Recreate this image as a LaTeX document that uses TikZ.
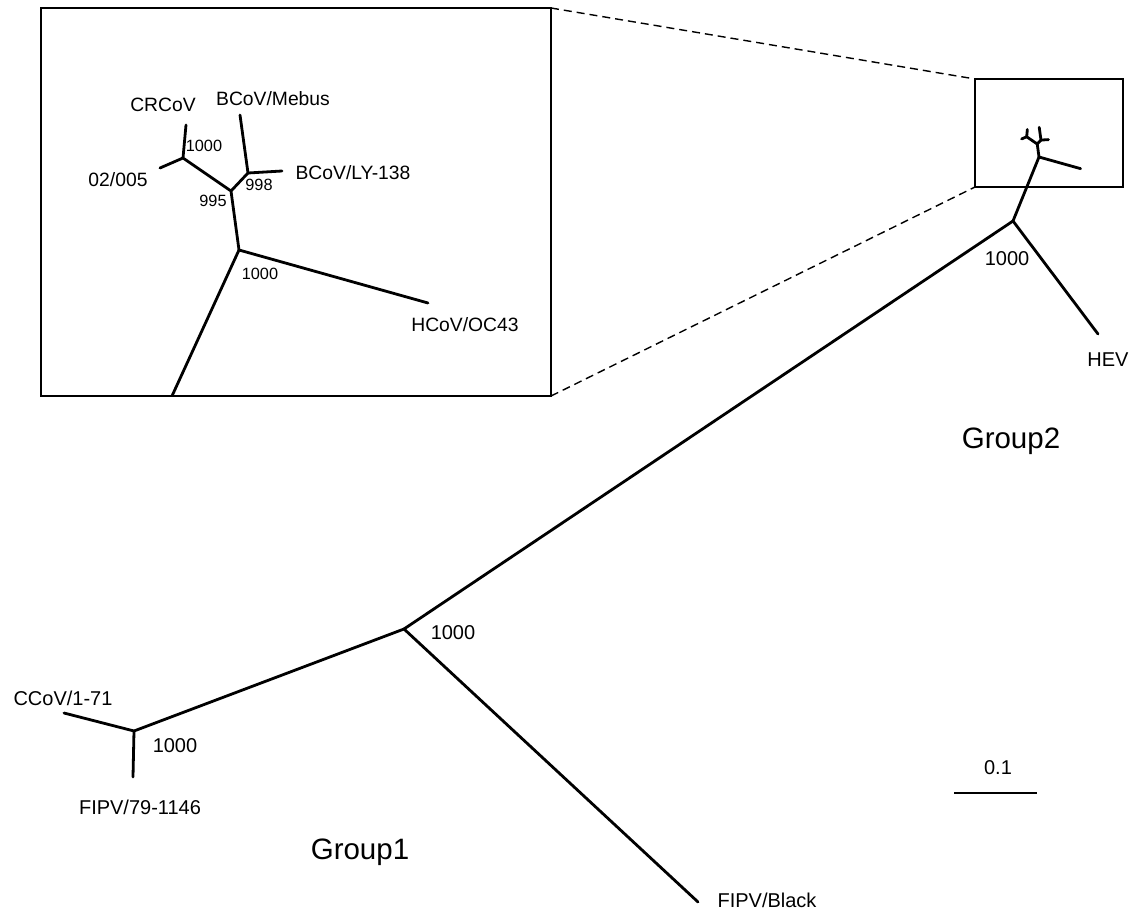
\documentclass[tikz,border=0pt]{standalone}
\usepackage{fontspec}
\setmainfont{Liberation Sans}
\tikzset{
  br/.style={line width=2.8pt, line cap=round, line join=round},
  boxframe/.style={draw, line width=2.8pt, inner sep=0pt, outer sep=0pt},
  lab/.style={inner sep=0pt, font=\fontsize{20}{22}\selectfont},
  ilab/.style={inner sep=0pt, font=\fontsize{19.3}{21}\selectfont},
  inum/.style={inner sep=0pt, font=\fontsize{16.3}{18}\selectfont},
  grp/.style={inner sep=0pt, font=\fontsize{29.5}{32}\selectfont},
  zoomline/.style={line width=1.4pt, dash pattern=on 8pt off 5pt},
}
\newcommand\cvtree[1]{%
  \coordinate (#1D) at (0,0);
  \coordinate (#1A) at (-56,-92);
  \coordinate (#1CR) at (-53,-125);
  \coordinate (#1OO) at (-79,-82);
  \coordinate (#1B) at (-8,-59);
  \coordinate (#1C) at (9,-77);
  \coordinate (#1ME) at (1,-135);
  \coordinate (#1LY) at (43,-79);
  \coordinate (#1HC) at (189,53);
  \draw[br] (#1HC) -- (#1D) -- (#1B) -- (#1A) -- (#1CR);
  \draw[br] (#1A) -- (#1OO);
  \draw[br] (#1B) -- (#1C) -- (#1ME);
  \draw[br] (#1C) -- (#1LY);
}
\begin{document}
\begin{tikzpicture}[x=1pt,y=-1pt]
\useasboundingbox (0,0) rectangle (1136,912);
% boxes
\node[boxframe, minimum width=510pt, minimum height=388pt] (bigbox) at (296,202) {};
\node[boxframe, minimum width=148pt, minimum height=108pt] (smallbox) at (1049,133) {};
\draw[zoomline] (bigbox.north east) -- (smallbox.north west);
\draw[zoomline] (bigbox.south east) -- (smallbox.south west);
% inset tree
\begin{scope}[shift={(239,250)}]
  \cvtree{i}
\end{scope}
\coordinate (iR) at (172,396);
\draw[br, line cap=butt] (iD) -- (iR);
% small tree
\begin{scope}[shift={(1039,157)}, scale=0.22]
  \cvtree{s}
\end{scope}
% main tree
\coordinate (G2) at (1013,221);
\coordinate (HEV) at (1098,334);
\coordinate (M) at (404,629);
\coordinate (FB) at (698,902);
\coordinate (G1) at (134,731);
\coordinate (CC) at (64,713);
\coordinate (FI) at (133,777);
\draw[br] (sD) -- (G2) -- (HEV);
\draw[br] (G2) -- (M) -- (FB);
\draw[br] (M) -- (G1) -- (CC);
\draw[br] (G1) -- (FI);
% scale bar
\coordinate (sb1) at (954,793);
\coordinate (sb2) at (1037,793);
\draw[line width=1.8pt] (sb1) -- (sb2);
\node[lab] (sblab) at (998,768) {0.1};
% inset labels
\node[ilab] (lCR) at (163,105) {CRCoV};
\node[ilab] (lME) at (273,99) {BCoV/Mebus};
\node[ilab] (lOO) at (118,180) {02/005};
\node[ilab] (lLY) at (353,173) {BCoV/LY-138};
\node[ilab] (lHC) at (465,325) {HCoV/OC43};
\node[inum] (nA) at (204,146) {1000};
\node[inum] (nC) at (259,185) {998};
\node[inum] (nB) at (213,201) {995};
\node[inum] (nD) at (260,274) {1000};
% main labels
\node[lab] (lHEV) at (1108,360) {HEV};
\node[lab] (nG2) at (1007,259) {1000};
\node[lab] (nM) at (453,633) {1000};
\node[lab] (lFB) at (767,900) {FIPV/Black};
\node[lab] (lCC) at (63,698) {CCoV/1-71};
\node[lab] (lFI) at (140,807) {FIPV/79-1146};
\node[lab] (nG1) at (175,746) {1000};
\node[grp] (g2) at (1011,441) {Group2};
\node[grp] (g1) at (360,852) {Group1};
\end{tikzpicture}
\end{document}
